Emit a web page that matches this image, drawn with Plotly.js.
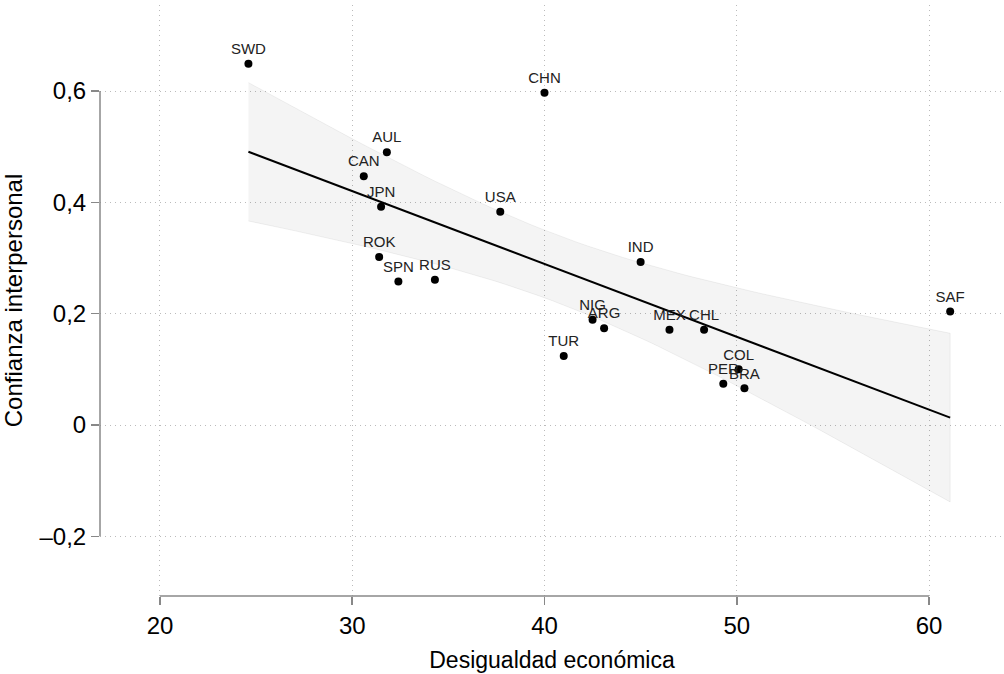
<!DOCTYPE html>
<html>
<head>
<meta charset="utf-8">
<script src="https://cdn.plot.ly/plotly-3.0.1.min.js"></script>
<style>html,body{margin:0;padding:0;background:#fff}#chart{width:1004px;height:674px}</style>
</head>
<body>
<div id="chart"></div>
<script>
// Country codes
const countries = ["SWD","CHN","AUL","CAN","JPN","USA","ROK","SPN","RUS","IND","NIG","ARG","MEX","CHL","TUR","COL","PER","BRA","SAF"];
// Economic inequality (x)
const inequality = [24.6,40.0,31.8,30.6,31.5,37.7,31.4,32.4,34.3,45.0,42.5,43.1,46.5,48.3,41.0,50.1,49.3,50.4,61.1];
// Interpersonal trust (y)
const trust = [0.649,0.597,0.490,0.447,0.392,0.383,0.302,0.258,0.261,0.293,0.189,0.174,0.171,0.171,0.124,0.100,0.074,0.066,0.204];
const yTickVals = [-0.2,0,0.2,0.4,0.6];
const yTickText = ["\u20130,2","0","0,2","0,4","0,6"];
const xTickVals = [20,30,40,50,60];

// OLS fit with 95% confidence band (computed from the data)
const n = inequality.length;
const mx = inequality.reduce((a,b)=>a+b,0)/n;
const my = trust.reduce((a,b)=>a+b,0)/n;
let sxx=0, sxy=0;
for (let i=0;i<n;i++){ sxx += (inequality[i]-mx)**2; sxy += (inequality[i]-mx)*(trust[i]-my); }
const b1 = sxy/sxx, b0 = my - b1*mx;
let sse=0;
for (let i=0;i<n;i++){ sse += (trust[i]-b0-b1*inequality[i])**2; }
const s = Math.sqrt(sse/(n-2));
const tcrit = 2.110; // t(0.975, 17)
const xmin = Math.min(...inequality), xmax = Math.max(...inequality);
const fx=[], fy=[], up=[], lo=[];
const steps = 60;
for (let k=0;k<=steps;k++){
  const x = xmin + (xmax-xmin)*k/steps;
  const yh = b0 + b1*x;
  const se = s*Math.sqrt(1/n + (x-mx)**2/sxx);
  fx.push(x); fy.push(yh); up.push(yh+tcrit*se); lo.push(yh-tcrit*se);
}
const bandX = fx.concat(fx.slice().reverse());
const bandY = up.concat(lo.slice().reverse());

const font = "'Liberation Sans', Arial, Helvetica, sans-serif";
const traces = [
  {x: bandX, y: bandY, type:'scatter', mode:'lines', fill:'toself',
   fillcolor:'rgba(0,0,0,0.045)', line:{color:'rgba(0,0,0,0.06)', width:1},
   hoverinfo:'skip', showlegend:false},
  {x: fx, y: fy, type:'scatter', mode:'lines', line:{color:'#000', width:2},
   hoverinfo:'skip', showlegend:false},
  {x: inequality, y: trust, text: countries, type:'scatter', mode:'markers+text',
   textposition:'top center', textfont:{family:font, size:15, color:'#222'},
   marker:{color:'#000', size:8}, showlegend:false}
];

const layout = {
  width:1004, height:674,
  paper_bgcolor:'#fff', plot_bgcolor:'#fff',
  margin:{l:100, r:0, t:5, b:78},
  separators:',.',
  font:{family:font, color:'#000'},
  xaxis:{range:[16.88,63.9], tickvals:xTickVals, ticks:'outside', ticklen:8, tickcolor:'#888', tickwidth:1.5,
    showline:false, zeroline:false, showgrid:true, gridcolor:'#bbb', griddash:'1px,4px', gridwidth:1,
    tickfont:{size:24, family:font, color:'#000'},
    title:{text:'Desigualdad económica', font:{size:23, family:font, color:'#000'}, standoff:14}},
  yaxis:{range:[-0.3072,0.7545], tickvals:yTickVals, ticktext:yTickText, ticks:'outside', ticklen:8, tickcolor:'#888', tickwidth:1.5,
    showline:false, zeroline:false, showgrid:true, gridcolor:'#bbb', griddash:'1px,4px', gridwidth:1,
    tickfont:{size:24, family:font, color:'#000'},
    title:{text:'Confianza interpersonal', font:{size:24, family:font, color:'#000'}, standoff:10}},
  shapes:[
    {type:'line', xref:'paper', yref:'y', x0:0, x1:0, y0:-0.2, y1:0.6, line:{color:'#888', width:1.5}},
    {type:'line', xref:'x', yref:'paper', x0:20, x1:60, y0:0, y1:0, line:{color:'#888', width:1.5}}
  ]
};
Plotly.newPlot('chart', traces, layout, {displayModeBar:false, staticPlot:true});
</script>
</body>
</html>
